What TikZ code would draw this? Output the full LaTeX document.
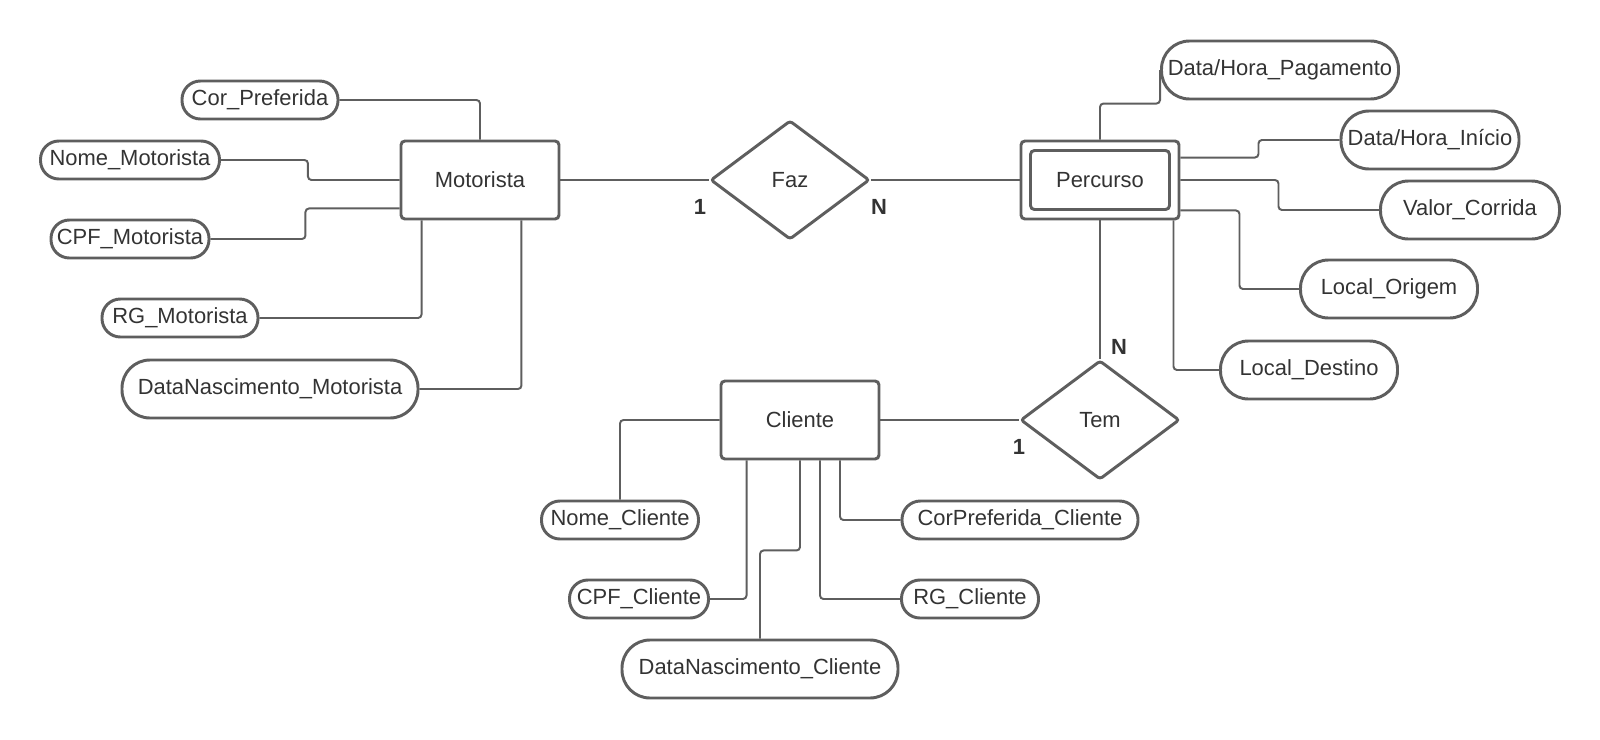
\documentclass[tikz,border=0pt]{standalone}
\usepackage{fontspec}
\setmainfont{Liberation Sans}
\usetikzlibrary{shapes.geometric}
\definecolor{linegray}{HTML}{5E5E5E}
\definecolor{textgray}{HTML}{333333}
\newcommand{\erfont}{\fontsize{15.6}{18}\selectfont}

\begin{document}
\begin{tikzpicture}[x=2.5cm, y=-2.5cm,
  entity/.style={draw=linegray, line width=2.1pt, rounded corners=2.8pt, fill=white,
    minimum width=3.95cm, minimum height=1.95cm, text=textgray, font=\erfont},
  relation/.style={diamond, draw=linegray, line width=2.1pt, rounded corners=2pt, fill=white,
    minimum width=3.975cm, minimum height=2.975cm, inner sep=0pt, text=textgray, font=\erfont},
  attrib/.style={draw=linegray, line width=2.1pt, fill=white, inner sep=0pt,
    minimum height=0.95cm, rounded corners=0.46cm, text=textgray, font=\erfont},
  tallattrib/.style={attrib, minimum height=1.45cm, rounded corners=0.7cm},
  link/.style={draw=linegray, line width=1.4pt, rounded corners=2.5pt},
  card/.style={text=textgray, font=\erfont\bfseries, inner sep=0pt}]
  \fill[white] (0,0) rectangle (16,7.4);
  \useasboundingbox (0,0) rectangle (16,7.4);

  % Entities and relations
  \node[entity] (motorista) at (4.80,1.80) {Motorista};
  \node[relation] (faz) at (7.90,1.80) {Faz};
  \node[entity] (percurso) at (11.00,1.80) {};
  \node[entity, minimum width=3.475cm, minimum height=1.475cm] (percurso-in) at (percurso) {Percurso};
  \node[entity] (cliente) at (8.00,4.20) {Cliente};
  \node[relation] (tem) at (11.00,4.20) {Tem};

  % Motorista attributes
  \node[attrib, minimum width=3.9cm] (corp) at (2.60,1.00) {Cor\_Preferida};
  \node[attrib, minimum width=4.475cm] (nomem) at (1.30,1.60) {Nome\_Motorista};
  \node[attrib, minimum width=3.95cm] (cpfm) at (1.30,2.39) {CPF\_Motorista};
  \node[attrib, minimum width=3.9cm] (rgm) at (1.80,3.18) {RG\_Motorista};
  \node[tallattrib, minimum width=7.4cm] (dnm) at (2.70,3.89) {DataNascimento\_Motorista};

  % Percurso attributes
  \node[tallattrib, minimum width=5.925cm] (dhp) at (12.80,0.70) {Data/Hora\_Pagamento};
  \node[tallattrib, minimum width=4.45cm] (dhi) at (14.30,1.40) {Data/Hora\_Início};
  \node[tallattrib, minimum width=4.475cm] (valor) at (14.70,2.10) {Valor\_Corrida};
  \node[tallattrib, minimum width=4.425cm] (origem) at (13.89,2.89) {Local\_Origem};
  \node[tallattrib, minimum width=4.425cm] (destino) at (13.09,3.70) {Local\_Destino};

  % Cliente attributes
  \node[attrib, minimum width=3.925cm] (nomec) at (6.20,5.20) {Nome\_Cliente};
  \node[attrib, minimum width=3.475cm] (cpfc) at (6.39,5.99) {CPF\_Cliente};
  \node[tallattrib, minimum width=6.9cm] (dnc) at (7.60,6.69) {DataNascimento\_Cliente};
  \node[attrib, minimum width=5.9cm] (cpc) at (10.20,5.20) {CorPreferida\_Cliente};
  \node[attrib, minimum width=3.425cm] (rgc) at (9.70,5.99) {RG\_Cliente};

  % Relationship lines
  \draw[link] (motorista.east) -- (faz.west);
  \draw[link] (faz.east) -- (percurso.west);
  \draw[link] (percurso.south) -- (tem.north);
  \draw[link] (cliente.east) -- (tem.west);

  % Cardinalities
  \node[card] (faz-1) at (7.00,2.07) {1};
  \node[card] (faz-n) at (8.79,2.07) {N};
  \node[card] (tem-n) at (11.19,3.47) {N};
  \node[card] (tem-1) at (10.19,4.47) {1};

  % Motorista links
  \draw[link] (corp.east) -| (motorista.north);
  \draw[link] (nomem.east) -- ++(0.87,0) |- (motorista.west);
  \draw[link] (cpfm.east) -- ++(0.95,0) |- ([yshift=0.3cm]motorista.south west);
  \draw[link] (rgm.east) -| ([xshift=0.55cm]motorista.south west);
  \draw[link] (dnm.east) -| ([xshift=-0.975cm]motorista.south east);

  % Percurso links
  \draw[link] (percurso.north) -- ++(0,-0.36) -| (dhp.west);
  \draw[link] ([yshift=-0.45cm]percurso.north east) -- ++(0.78,0) |- (dhi.west);
  \draw[link] (percurso.east) -- ++(0.98,0) |- (valor.west);
  \draw[link] ([yshift=0.25cm]percurso.south east) -- ++(0.59,0) |- (origem.west);
  \draw[link] ([xshift=-0.175cm]percurso.south east) |- (destino.west);

  % Cliente links
  \draw[link] (cliente.west) -| (nomec.north);
  \draw[link] ([xshift=0.675cm]cliente.south west) |- (cpfc.east);
  \draw[link] (cliente.south) -- ++(0,0.90) -| (dnc.north);
  \draw[link] ([xshift=0.5cm]cliente.south) |- (rgc.west);
  \draw[link] ([xshift=1.0cm]cliente.south) |- (cpc.west);
\end{tikzpicture}
\end{document}
